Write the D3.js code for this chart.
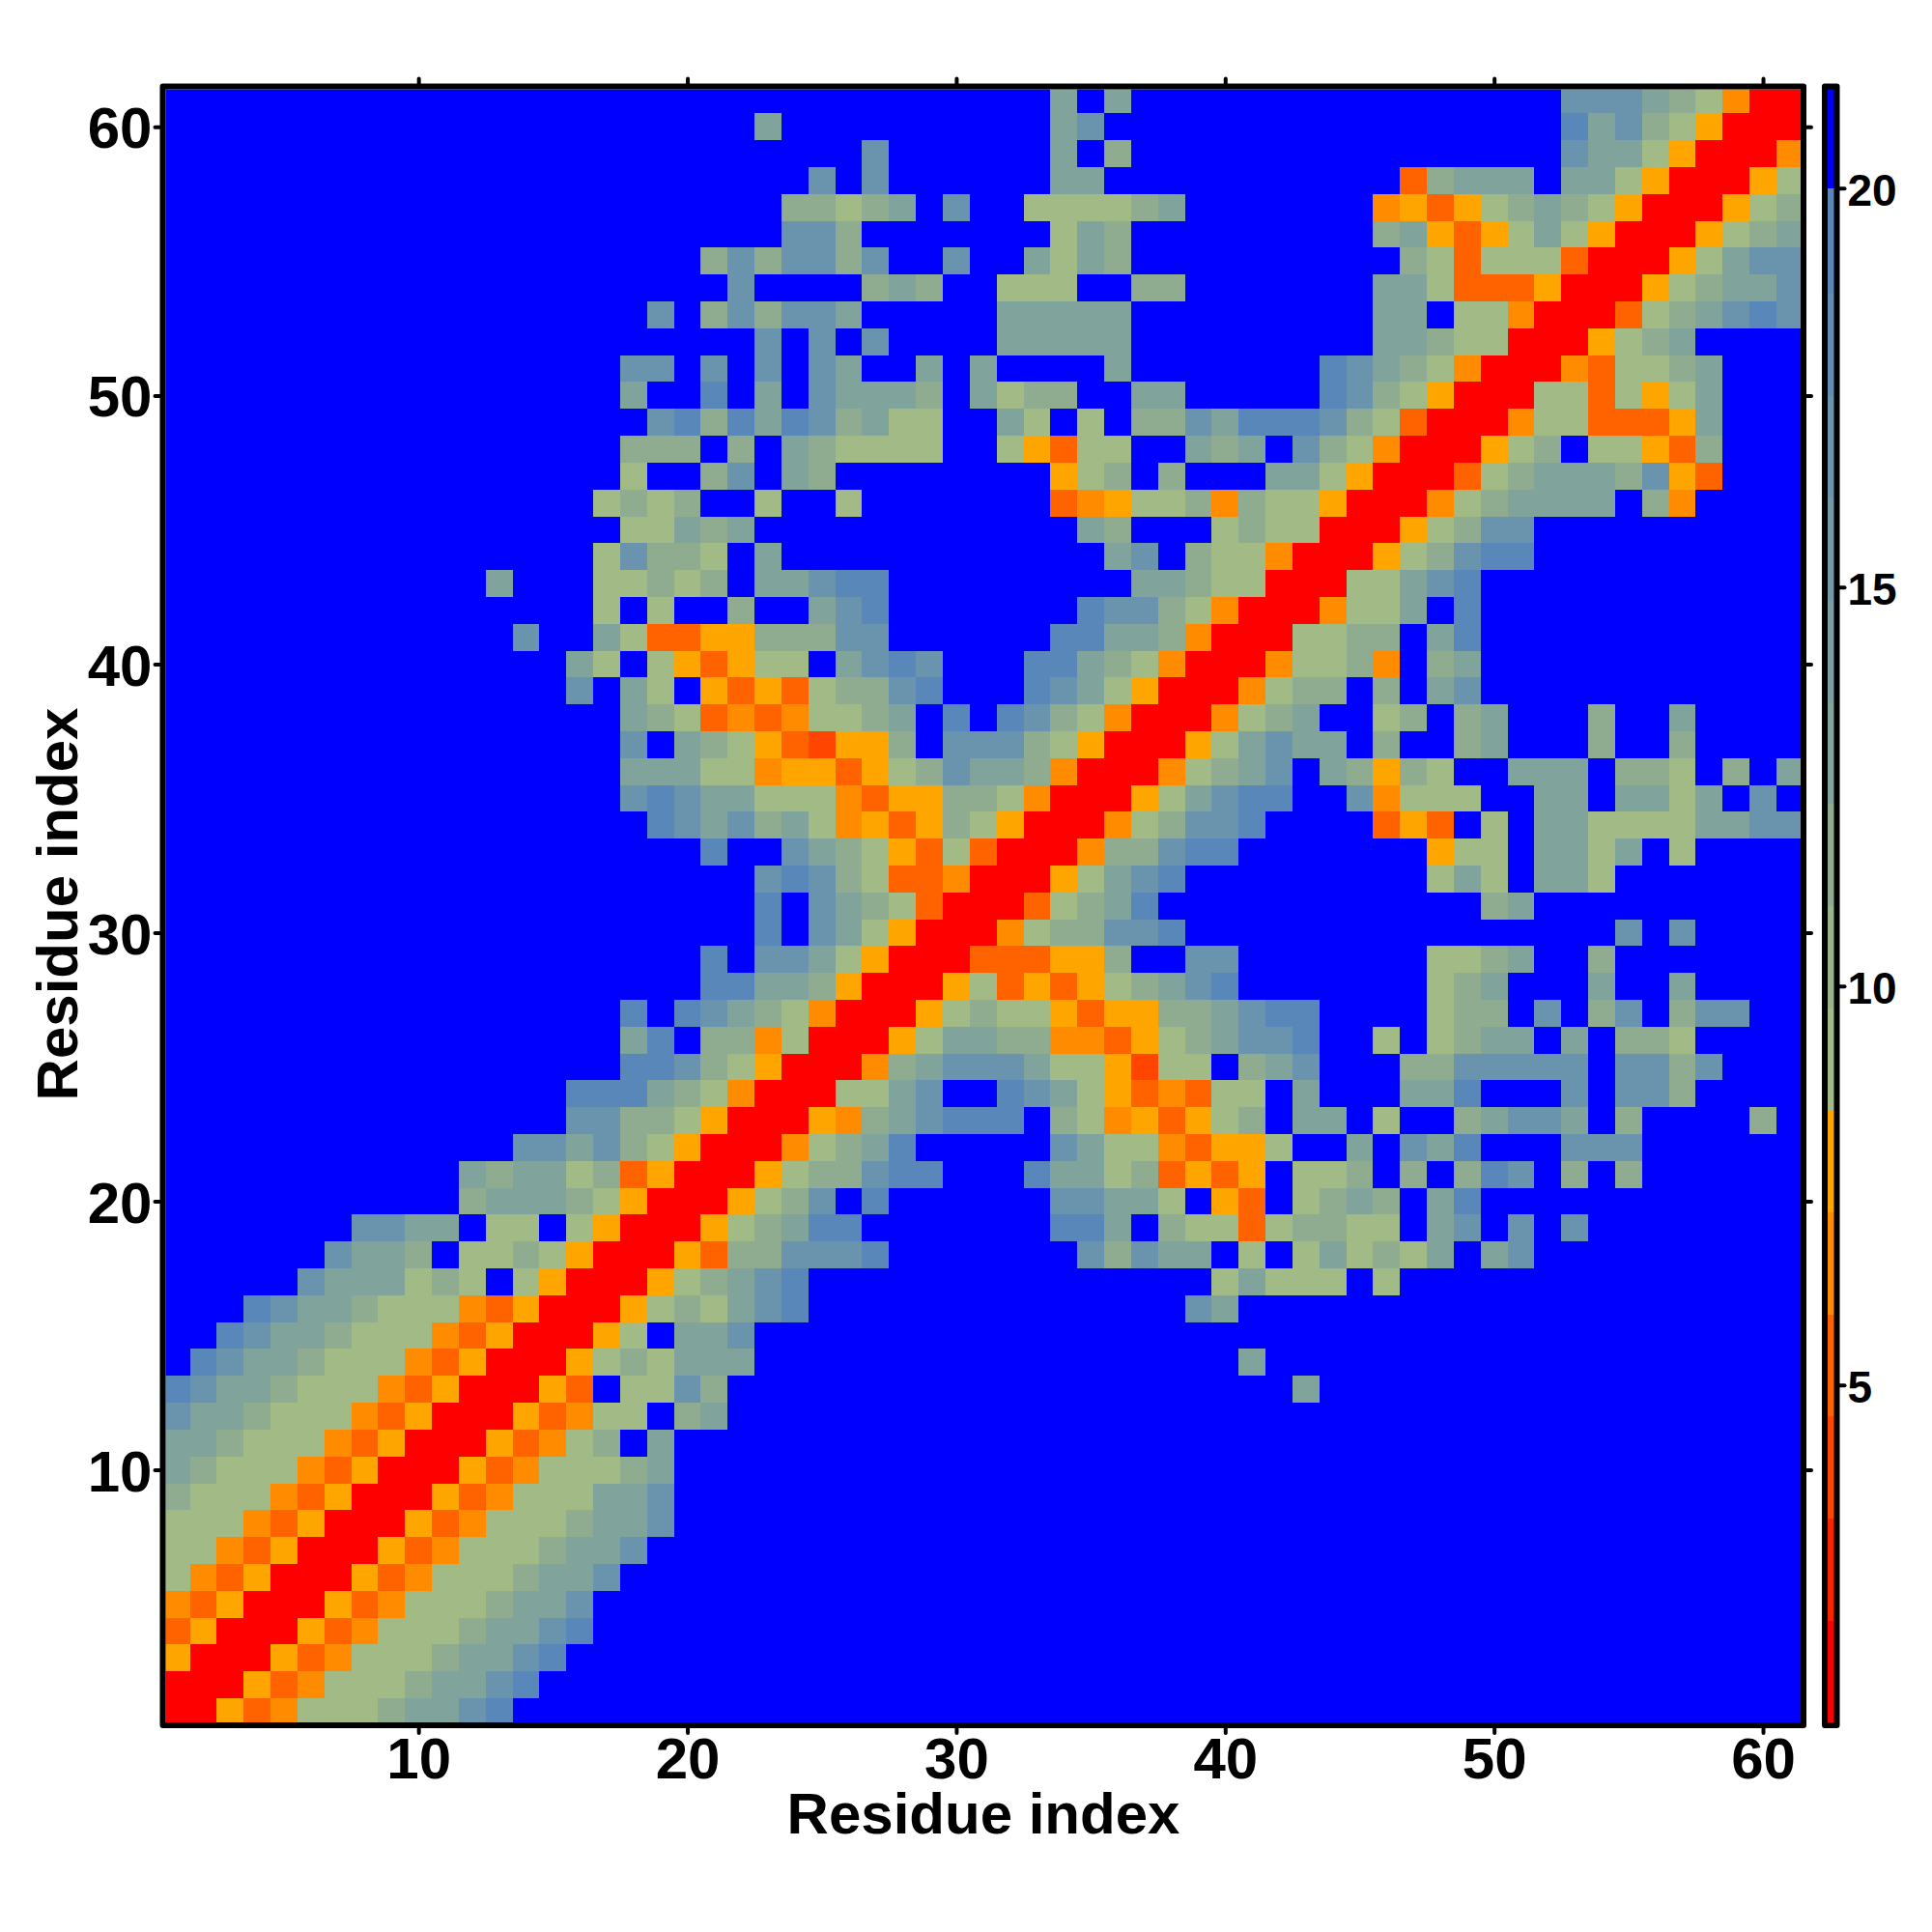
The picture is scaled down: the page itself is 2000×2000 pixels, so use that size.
<!DOCTYPE html>
<html><head><meta charset="utf-8">
<script src="https://cdnjs.cloudflare.com/ajax/libs/d3/7.8.5/d3.min.js"></script>
<style>html,body{margin:0;background:#fff}svg{display:block}text{font-family:"Liberation Sans",Arial,sans-serif;font-weight:bold;fill:#000}</style>
</head><body><svg id="c" width="2000" height="2000"></svg>
<script>
// Distance levels, by code letter
const levelCodes  = ["R","x","o","g","y","a","b","c","d","e","."];
const levelValues = [1.5,4,5.2,6.5,7.8,9.6,12,13.5,16.8,19.5,20.6];
// Colour-bar steps
const barBreaks = [2.04,3.33,4.61,5.88,7.16,8.44,9.72,11,12.28,13.56,14.84,16.12,17.4,18.68,20];
const barColors = ["#ff0000","#ff2200","#ff4500","#ff6300","#ff8c00","#ffa500","#a2ba85","#9ab48a","#8fac90","#80a39b","#7a9ea1","#7199a8","#6a94ae","#618eb4","#5a87ba","#0000ff"];
const xTicks = [10,20,30,40,50,60];
const barTicks = [5,10,15,20];
// Each row: residue index on the y axis, then [start column, codes] runs
const rows = [
[1,[1,"RRyogaaabccde"]],
[2,[1,"RRRyogaaabccde"]],
[3,[1,"yRRRyogaaabccde"]],
[4,[1,"oyRRRyogaaabccde"]],
[5,[1,"goyRRRyogaaabccd"]],
[6,[1,"agoyRRRyogaaabccd"]],
[7,[1,"aagoyRRRyogaaabccd"]],
[8,[1,"aaagoyRRRyogaaabccd"]],
[9,[1,"baaagoyRRRyogaaaccd"]],
[10,[1,"cbaaagoyRRRyogaaabc"]],
[11,[1,"ccbaaagoyRRRyogab.c"]],
[12,[1,"dccbaaagoyRRRyogaa.bc"]],
[13,[1,"edccbaaagoyRRRyo.aadb"],[43,"c"]],
[14,[2,"edccbaaagoyRRRyabaccc"],[41,"c"]],
[15,[3,"edccbaaagoyRRRya.ccd"]],
[16,[4,"edccbaaagoyRRRyabacde"],[39,"dc"]],
[17,[6,"dcccaba.ayRRRyabcde"],[40,"acaaa.a"]],
[18,[7,"dccb.aabayRRRyobbddde"],[35,"dbdcc.a.acabac.cd"]],
[19,[8,"ddcc.aa.ayRRRyabcee"],[34,"eec.baaoabbaa.cd.d.d"]],
[20,[12,"bcccbayRRRyabd.e"],[34,"ddcca.yo.abcb.ce"]],
[21,[12,"cbccaboyRRRyabbdee"],[33,"eccaboyoy.aab.b.bed.b.b"]],
[22,[14,"ddcdbayRRRgabce"],[34,"dcaagoyya..c.dce...ddd"]],
[23,[16,"ddbbayRRRygbcdeee"],[34,"bagyoyab.cc.a..bcddc.b"],[60,"b"]],
[24,[16,"eeecbagRRRaacd..edcayogoaa.c...cce...d.ddb"]],
[25,[18,"eedbayRRRgbcdddcaayxaa.bcd...bbddddd.ddbd"]],
[26,[18,"ce.bbgaRRRyaccbbggoyabcdde..a.abcc.c.bba"]],
[27,[18,"e.edcbagRRRyabaayoyybbcdee....abb.d.bd.bdd"]],
[28,[21,"eeccbyRRRyaoyoyabcde"],[48,"abc...c..c"]],
[29,[21,"e.ddcayRRRoooyyb..dd"],[48,"aabc..b"]],
[30,[23,"e.dcayRRRgabbdde"],[55,"d.d"]],
[31,[23,"e.dcbaoRRRoabce"],[50,"bc"]],
[32,[23,"dedbaoogRRRyacde"],[48,"aca.cca"]],
[33,[21,"e..dcbayoaoRRRgbbdee"],[48,"yaa.ccac.a"]],
[34,[19,"edcdbcagyoybayRRRgabdde"],[46,"oyo.a.ccaaaaccdd"]],
[35,[18,"dedccaaagoyybbagRRRyacdee"],[45,"dgaaa..cc.ccac.d"]],
[36,[18,"cccaagyyoyabdccbgRRRgabcd.cbyba..ccc.bba.b.c"]],
[37,[18,"d.cbayoxyyb.dddbayRRRyacdcc.b..bc...b..b"]],
[38,[18,"cbaogogaabc.e.edbagRRRgabc..ab.bc...b..c"]],
[39,[16,"d.ca.yoyoabbde...edcayRRRgabb.b.cd"]],
[40,[16,"ca.ayoyaa.cded...eecbagRRRgaabg.bc"]],
[41,[14,"d"],[17,"caooyybbbdd......eeccbgRRRaabb.ce"]],
[42,[17,"a.a..b..cde.......eddbagRRRgaac.e"]],
[43,[13,"c"],[17,"aabab.ccdee.........ccbaaRRRaacde"]],
[44,[17,"adbba.c............cd.baagRRRyabdee"]],
[45,[18,"aacbc............cb...abaaRRRyabdd"]],
[46,[17,"abab..a..a.......ogyaabgbaayRRRgabcccc.bg"]],
[47,[18,"a..bd.cb........yab.b...ccayRRRoabcccbdyo"]],
[48,[18,"bbb.b.cbaaaa..ayoaa..cbc.dbagRRRyab.aayob"]],
[49,[19,"debecedbcaa..ca.a.bbdceeedbaoRRRgaaoooyc"]],
[50,[18,"c..e.c.dcccb.cabb..cc.....edbayRRRaaoayac"]],
[51,[18,"dd.d.d.dc..c.c....c.......edcbagRRRgoaabc"]],
[52,[23,"d.d.d....ccccc.........ccbaaRRRyabc"]],
[53,[19,"d.bdbddc.....ccccc.........cc.aagRRRoabcded"]],
[54,[22,"d....bcb..aaa..bb.......ccaoooyRRRyabccd"]],
[55,[21,"bdbddbd..d..cacb..........baoaaaoRRRyacdd"]],
[56,[24,"ddb.......acb.........bcyoyacayRRRyabc"]],
[57,[24,"bbabc.d..aaaabc.......gyoyabcbayRRRyab"]],
[58,[25,"d.d......cc...........obccc.ccayRRRya"]],
[59,[27,"d......c.b................dccayRRRg"]],
[60,[23,"c"],[34,"cd"],[53,"ecdbayRRR"]],
[61,[34,"c.c"],[53,"dddcbagRR"]]
];

const svg = d3.select("#c");
const L=171.5,R=1864,T=92.4,B=1783;
const x = d3.scaleLinear().domain([0.6,61.4]).range([L,R]);
const y = d3.scaleLinear().domain([0.6,61.4]).range([B,T]);
const cy = d3.scaleLinear().domain([0.77,21.24]).range([B,T]);
const valueOf = d3.scaleOrdinal().domain(levelCodes).range(levelValues);
const color = d3.scaleThreshold().domain(barBreaks).range(barColors);

const cells=[];
for(const [v,...runs] of rows){
  const filled=new Map();
  for(const [s,codes] of runs) Array.from(codes).forEach((c,k)=>filled.set(s+k,c));
  for(let i=1;i<=61;i++) cells.push({i,v,d:valueOf(filled.get(i)||".")});
}
svg.append("clipPath").attr("id","plot").append("rect").attr("x",L).attr("y",T).attr("width",R-L).attr("height",B-T);
svg.append("g").attr("clip-path","url(#plot)").attr("shape-rendering","crispEdges")
 .selectAll("rect").data(cells).join("rect")
 .attr("x",d=>x(d.i-.5)).attr("width",d=>x(d.i+.5)-x(d.i-.5))
 .attr("y",d=>y(d.v+.5)).attr("height",d=>y(d.v-.5)-y(d.v+.5))
 .attr("fill",d=>color(d.d));

const sw=6;
function styleAxis(g,fs){
  g.select(".domain").remove();
  g.selectAll(".tick line").attr("stroke","#000").attr("stroke-width",4).attr("stroke-linecap","round");
  g.selectAll(".tick text").style("font-size",fs+"px").style("font-weight","bold").attr("fill","#000");
  return g;
}
const off=sw/2;
styleAxis(svg.append("g").attr("transform",`translate(0,${B+off+2})`).call(d3.axisBottom(x).tickValues(xTicks).tickSize(6).tickPadding(4).tickFormat(d3.format("d"))),60);
styleAxis(svg.append("g").attr("transform",`translate(${L-off-2},0)`).call(d3.axisLeft(y).tickValues(xTicks).tickSize(6).tickPadding(3).tickFormat(d3.format("d"))),60)
  .selectAll(".tick text").attr("dy","0.36em");
styleAxis(svg.append("g").attr("transform",`translate(0,${T-off-2})`).call(d3.axisTop(x).tickValues(xTicks).tickSize(6).tickFormat("")),10);
styleAxis(svg.append("g").attr("transform",`translate(${R+off+2},0)`).call(d3.axisRight(y).tickValues(xTicks).tickSize(6).tickFormat("")),10);
svg.append("rect").attr("x",L-off).attr("y",T-off).attr("width",R-L+sw).attr("height",B-T+sw)
 .attr("fill","none").attr("stroke","#000").attr("stroke-width",sw).attr("stroke-linejoin","round");

// Colour bar
const bl=1892,br=1898.5;
const edges=[0.77,...barBreaks,21.24];
svg.append("g").attr("shape-rendering","crispEdges").selectAll("rect").data(barColors).join("rect")
 .attr("x",bl).attr("width",br-bl)
 .attr("y",(d,i)=>cy(edges[i+1])).attr("height",(d,i)=>cy(edges[i])-cy(edges[i+1]))
 .attr("fill",d=>d);
svg.append("rect").attr("x",bl-off).attr("y",T-off).attr("width",br-bl+sw).attr("height",B-T+sw)
 .attr("fill","none").attr("stroke","#000").attr("stroke-width",sw).attr("stroke-linejoin","round");
styleAxis(svg.append("g").attr("transform",`translate(${br+off+2},0)`).call(d3.axisRight(cy).tickValues(barTicks).tickSize(6).tickPadding(3).tickFormat(d3.format("d"))),46)
  .selectAll(".tick text").attr("dy","0.38em");

svg.append("text").attr("x",1018).attr("y",1898).attr("text-anchor","middle").style("font-size","60px").text("Residue index");
svg.append("text").attr("transform","translate(80,936) rotate(-90)").attr("text-anchor","middle").style("font-size","60px").text("Residue index");
</script></body></html>
